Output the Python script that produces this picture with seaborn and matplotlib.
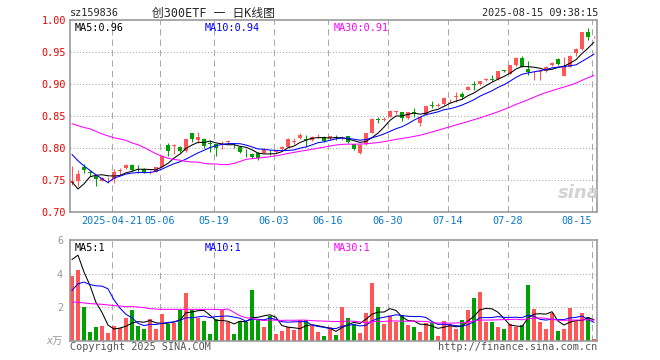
import numpy as np
import pandas as pd
import seaborn as sns
import matplotlib
matplotlib.use("Agg")
import matplotlib.pyplot as plt

# 日K数据 (2025-04-10 .. 2025-08-15)
opens = [0.745, 0.749, 0.771, 0.763, 0.756, 0.749, 0.751, 0.752, 0.764, 0.768,
         0.774, 0.769, 0.767, 0.762, 0.763, 0.771, 0.804, 0.803, 0.802, 0.795,
         0.823, 0.813, 0.814, 0.807, 0.806, 0.805, 0.809, 0.805, 0.802, 0.794,
         0.791, 0.792, 0.792, 0.794, 0.794, 0.799, 0.802, 0.810, 0.815, 0.814,
         0.812, 0.818, 0.817, 0.815, 0.817, 0.815, 0.818, 0.806, 0.792, 0.806,
         0.824, 0.845, 0.844, 0.849, 0.856, 0.856, 0.847, 0.856, 0.839, 0.852,
         0.867, 0.866, 0.868, 0.873, 0.880, 0.884, 0.891, 0.900, 0.900, 0.907,
         0.908, 0.908, 0.921, 0.916, 0.929, 0.940, 0.923, 0.915, 0.919, 0.920,
         0.929, 0.939, 0.913, 0.927, 0.948, 0.955, 0.981, 0.973]
highs = [0.772, 0.766, 0.775, 0.766, 0.758, 0.755, 0.755, 0.767, 0.768, 0.775,
         0.775, 0.773, 0.768, 0.765, 0.771, 0.789, 0.808, 0.806, 0.803, 0.816,
         0.824, 0.825, 0.816, 0.813, 0.807, 0.811, 0.812, 0.808, 0.803, 0.798,
         0.792, 0.793, 0.800, 0.797, 0.797, 0.803, 0.815, 0.815, 0.823, 0.821,
         0.818, 0.822, 0.818, 0.819, 0.820, 0.818, 0.819, 0.807, 0.806, 0.824,
         0.847, 0.849, 0.849, 0.859, 0.859, 0.857, 0.857, 0.862, 0.850, 0.866,
         0.873, 0.870, 0.879, 0.877, 0.887, 0.887, 0.897, 0.904, 0.905, 0.910,
         0.914, 0.921, 0.922, 0.930, 0.942, 0.944, 0.936, 0.920, 0.922, 0.928,
         0.934, 0.940, 0.942, 0.945, 0.956, 0.982, 0.988, 0.975]
lows = [0.742, 0.741, 0.761, 0.756, 0.740, 0.748, 0.746, 0.746, 0.758, 0.767,
        0.764, 0.761, 0.761, 0.760, 0.762, 0.770, 0.787, 0.791, 0.794, 0.794,
        0.810, 0.808, 0.800, 0.794, 0.788, 0.798, 0.806, 0.800, 0.792, 0.786,
        0.785, 0.781, 0.792, 0.789, 0.792, 0.797, 0.801, 0.806, 0.814, 0.802,
        0.811, 0.815, 0.810, 0.813, 0.813, 0.813, 0.808, 0.797, 0.790, 0.805,
        0.823, 0.839, 0.842, 0.848, 0.853, 0.842, 0.846, 0.849, 0.834, 0.851,
        0.862, 0.864, 0.867, 0.871, 0.872, 0.876, 0.890, 0.890, 0.899, 0.904,
        0.904, 0.907, 0.918, 0.915, 0.928, 0.926, 0.914, 0.906, 0.906, 0.919,
        0.928, 0.930, 0.912, 0.926, 0.943, 0.953, 0.968, 0.972]
closes = [0.749, 0.760, 0.765, 0.761, 0.752, 0.753, 0.752, 0.763, 0.765, 0.773,
          0.765, 0.768, 0.763, 0.763, 0.770, 0.788, 0.796, 0.804, 0.795, 0.814,
          0.814, 0.817, 0.803, 0.806, 0.800, 0.806, 0.810, 0.804, 0.793, 0.793,
          0.786, 0.784, 0.798, 0.793, 0.795, 0.802, 0.814, 0.811, 0.821, 0.813,
          0.817, 0.819, 0.811, 0.818, 0.816, 0.816, 0.809, 0.798, 0.805, 0.823,
          0.846, 0.844, 0.845, 0.858, 0.857, 0.847, 0.856, 0.855, 0.849, 0.865,
          0.866, 0.867, 0.878, 0.874, 0.881, 0.880, 0.896, 0.899, 0.904, 0.908,
          0.907, 0.920, 0.920, 0.929, 0.941, 0.927, 0.918, 0.916, 0.921, 0.927,
          0.933, 0.932, 0.927, 0.943, 0.955, 0.981, 0.974, 0.974]
# 成交量 (万)
volumes = [3.84, 4.24, 2.04, 0.52, 0.82, 0.88, 0.46, 0.88, 0.80, 1.36,
           1.84, 0.88, 0.70, 1.30, 0.70, 1.60, 1.00, 1.08, 1.84, 2.86,
           1.84, 1.38, 1.18, 0.40, 1.30, 1.84, 1.14, 0.40, 1.18, 1.14,
           3.04, 1.28, 0.84, 1.48, 0.40, 0.58, 0.82, 0.64, 1.24, 1.24,
           0.90, 0.52, 0.28, 0.82, 0.34, 2.02, 1.36, 1.00, 0.46, 1.66,
           3.46, 2.02, 1.00, 1.46, 1.14, 1.54, 0.94, 0.84, 0.52, 1.06,
           1.06, 0.28, 1.18, 1.00, 0.70, 1.24, 1.84, 2.56, 2.92, 1.12,
           1.12, 0.82, 0.70, 1.00, 0.82, 0.94, 3.34, 1.90, 1.10, 0.70,
           1.66, 0.58, 0.70, 1.96, 1.18, 1.66, 1.42, 0.10]

# 窗口开头看不到前期数据, 均线起点直接从图上读
ma5_head = [0.747, 0.736, 0.744, 0.755]
ma10_head = [0.790, 0.780, 0.772, 0.765, 0.758, 0.752, 0.746, 0.753, 0.756]
ma30_head = [0.838, 0.835, 0.832, 0.830, 0.826, 0.822, 0.819, 0.816, 0.814, 0.812,
             0.808, 0.805, 0.801, 0.796, 0.791, 0.787, 0.784, 0.782, 0.781, 0.779,
             0.778, 0.778, 0.776, 0.775, 0.775, 0.774, 0.774, 0.776, 0.779]
vma5_head = [4.84, 5.10, 4.10, 3.30]
vma10_head = [3.00, 3.40, 3.50, 3.35, 3.28, 3.26, 3.10, 2.45, 1.95]
vma30_head = [2.32, 2.30, 2.26, 2.22, 2.20, 2.18, 2.14, 2.10, 2.08, 2.04,
              2.04, 2.02, 1.98, 1.92, 1.90, 1.88, 1.88, 1.88, 1.88, 1.88,
              1.88, 1.88, 1.88, 1.88, 1.88, 1.86, 1.90, 1.70, 1.50]

tick_idx = [7, 15, 24, 34, 43, 53, 63, 73, 87]
tick_labels = ["2025-04-21", "05-06", "05-19", "06-03", "06-16", "06-30",
               "07-14", "07-28", "08-15"]

RED = "#ff5757"
GREEN = "#00a000"
GRID = "#aaaaaa"
LW = 0.75


def moving_avg(values, n, head):
    s = pd.Series(values, dtype=float).rolling(n).mean()
    s.iloc[:len(head)] = head
    return s.values


df = pd.DataFrame({"o": opens, "h": highs, "l": lows, "c": closes, "v": volumes})
df["i"] = np.arange(len(df))
df["up"] = df["c"] >= df["o"]
df["ma5"] = moving_avg(closes, 5, ma5_head)
df["ma10"] = moving_avg(closes, 10, ma10_head)
df["ma30"] = moving_avg(closes, 30, ma30_head)
df["vma5"] = moving_avg(volumes, 5, vma5_head)
df["vma10"] = moving_avg(volumes, 10, vma10_head)
df["vma30"] = moving_avg(volumes, 30, vma30_head)
colors = np.where(df["up"], RED, GREEN)

sns.set_style("white")
plt.rcParams["font.family"] = ["DejaVu Sans Mono", "Noto Sans CJK SC"]

fig = plt.figure(figsize=(6.6, 3.6), dpi=100)
W, H = 660, 360
ax = fig.add_axes([70 / W, 1 - 212 / H, 527 / W, 192 / H])
axv = fig.add_axes([70 / W, 1 - 341 / H, 527 / W, 101 / H])
xlim = (-0.33, 87.5)
vlines = np.array(tick_idx) - 0.33

# --- K线 ---
for a in (ax, axv):
    for x in vlines:
        a.axvline(x, color=GRID, lw=LW, ls=(0, (6, 4)), zorder=0)
    for s in a.spines.values():
        s.set_color("#999999")
        s.set_linewidth(1.2)
    a.set_xlim(*xlim)

for y in [0.75, 0.80, 0.85, 0.90, 0.95]:
    ax.axhline(y, color=GRID, lw=LW, ls=(0, (1, 2)), zorder=0)

ax.vlines(df["i"], df["l"], df["h"], colors=colors, lw=LW, zorder=2)
body = np.maximum((df["c"] - df["o"]).abs(), 0.0012)
ax.bar(df["i"], body, bottom=np.minimum(df["o"], df["c"]), width=0.8,
       color=colors, linewidth=0, zorder=3)

sns.lineplot(data=df, x="i", y="ma5", color="black", lw=LW, ax=ax, zorder=4)
sns.lineplot(data=df, x="i", y="ma10", color="#0000ff", lw=LW, ax=ax, zorder=4)
sns.lineplot(data=df, x="i", y="ma30", color="#ff00ff", lw=LW, ax=ax, zorder=4)

ax.set_ylim(0.70, 1.00)
ax.set_yticks([0.70, 0.75, 0.80, 0.85, 0.90, 0.95, 1.00])
ax.set_yticklabels([f"{v:.2f}" for v in [0.70, 0.75, 0.80, 0.85, 0.90, 0.95, 1.00]],
                   color="#ee0000", fontsize=7.3)
ax.set_xticks(vlines)
ax.set_xticklabels(tick_labels, color="#0a78c8", fontsize=7.3)
ax.get_xticklabels()[-1].set_ha("right")
ax.tick_params(length=0, pad=3)
ax.set_xlabel("")
ax.set_ylabel("")

ax.text(0.008, 0.985, "MA5:0.96", transform=ax.transAxes, fontsize=7.3,
        color="black", va="top")
ax.text(0.255, 0.985, "MA10:0.94", transform=ax.transAxes, fontsize=7.3,
        color="#0000ff", va="top")
ax.text(0.5, 0.985, "MA30:0.91", transform=ax.transAxes, fontsize=7.3,
        color="#ff00ff", va="top")
ax.text(0.965, 0.10, "sina", transform=ax.transAxes, fontsize=13,
        color="#c8c8c8", ha="center", va="center", style="italic",
        fontweight="bold", family="DejaVu Sans", alpha=0.8)

# --- 成交量 ---
axv.bar(df["i"], df["v"], width=0.8, color=colors, linewidth=0, zorder=2)
for y in [2, 4]:
    axv.axhline(y, color=GRID, lw=LW, ls=(0, (1, 2)), zorder=0)
sns.lineplot(data=df, x="i", y="vma5", color="black", lw=LW, ax=axv, zorder=4)
sns.lineplot(data=df, x="i", y="vma10", color="#0000ff", lw=LW, ax=axv, zorder=4)
sns.lineplot(data=df, x="i", y="vma30", color="#ff00ff", lw=LW, ax=axv, zorder=4)
axv.set_ylim(0, 6)
axv.set_yticks([2, 4, 6])
axv.set_yticklabels(["2", "4", "6"], color="#999999", fontsize=7.3)
axv.set_xticks([])
axv.tick_params(length=0, pad=5)
axv.set_xlabel("")
axv.set_ylabel("")
axv.text(0.008, 0.97, "MA5:1", transform=axv.transAxes, fontsize=7.3,
         color="black", va="top")
axv.text(0.255, 0.97, "MA10:1", transform=axv.transAxes, fontsize=7.3,
         color="#0000ff", va="top")
axv.text(0.5, 0.97, "MA30:1", transform=axv.transAxes, fontsize=7.3,
         color="#ff00ff", va="top")

# --- 标题和页脚 ---
fig.text(70 / W, 1 - 13 / H, "sz159836", fontsize=7.3, va="center")
fig.text(213 / W, 1 - 13 / H, "创300ETF 一 日K线图", fontsize=8.5, va="center",
         ha="center")
fig.text(598 / W, 1 - 13 / H, "2025-08-15 09:38:15", fontsize=7.3, va="center",
         ha="right")
fig.text(63 / W, 1 - 341 / H, "x万", fontsize=7.3, color="#999999", va="center",
         ha="right", style="italic")
fig.text(70 / W, 1 - 347 / H, "Copyright 2025 SINA.COM", fontsize=7.3,
         color="#555555", va="center")
fig.text(597 / W, 1 - 347 / H, "http://finance.sina.com.cn", fontsize=7.3,
         color="#555555", va="center", ha="right")

fig.savefig("out.png", dpi=100)
